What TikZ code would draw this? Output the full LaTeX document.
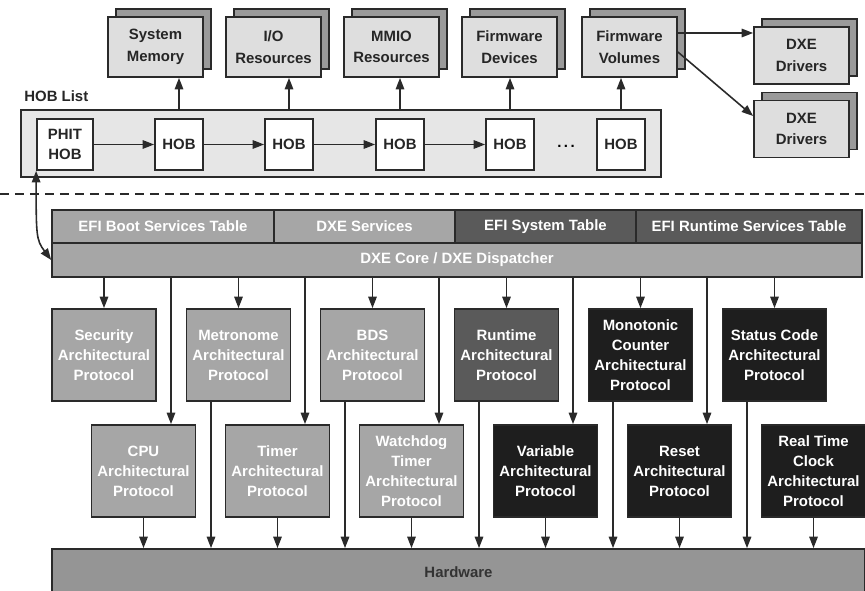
\documentclass[tikz,border=0pt]{standalone}
\usepackage{fontspec}
\setmainfont{Liberation Sans}
\usepackage{xcolor}
\usetikzlibrary{arrows.meta,shadows}

\definecolor{edgegray}{HTML}{2A2A2A}
\definecolor{palegray}{HTML}{DEDEDE}
\definecolor{listgray}{HTML}{E6E6E6}
\definecolor{shadegray}{HTML}{9A9A9A}
\definecolor{midgray}{HTML}{A6A6A6}
\definecolor{deepgray}{HTML}{5A5A5A}
\definecolor{nightgray}{HTML}{1E1E1E}
\definecolor{hwgray}{HTML}{959595}

\tikzset{
  box/.style={draw=edgegray, line width=1pt, align=center, inner sep=1pt,
    font=\fontsize{8.5}{11.4}\selectfont\bfseries},
  resbox/.style={box, fill=palegray, text=black!85, minimum width=1.9cm, minimum height=1.2cm,
    font=\fontsize{8.5}{12.2}\selectfont\bfseries,
    copy shadow={shadow xshift=0.16cm, shadow yshift=0.16cm, fill=shadegray, draw=edgegray}},
  hobbox/.style={box, fill=white, text=black!85, minimum width=0.96cm, minimum height=1.02cm},
  tablebar/.style={box, text=white, minimum height=0.66cm},
  protobox/.style={box, text=white, minimum width=2.08cm, minimum height=1.84cm},
  link/.style={draw=edgegray, line width=0.9pt, ->},
  twoway/.style={draw=edgegray, line width=0.9pt, <->},
}

\begin{document}
\begin{tikzpicture}[x=0.02cm, y=-0.02cm, >={Triangle[length=2.3mm,width=1.7mm]}]
  \useasboundingbox (0,0) rectangle (865,591);

  % resources described by the HOB list
  \node[resbox] (sysmem) at (155.5,47) {System\\Memory};
  \node[resbox] (iores) at (273.5,47) {I/O\\Resources};
  \node[resbox] (mmio) at (391.5,47) {MMIO\\Resources};
  \node[resbox] (fwdev) at (509.5,47) {Firmware\\Devices};
  \node[resbox] (fwvol) at (629.5,47) {Firmware\\Volumes};
  \node[resbox, minimum height=1.14cm] (drva) at (801.5,55.5) {DXE\\Drivers};
  \node[resbox, minimum height=1.14cm] (drvb) at (801.5,129) {DXE\\Drivers};

  % HOB list
  \node[font=\fontsize{8.5}{11.4}\selectfont\bfseries, text=black!85, anchor=west, inner sep=0pt]
    (hoblabel) at (24,96) {HOB List};
  \node[draw=edgegray, line width=1pt, fill=listgray, minimum width=12.8cm, minimum height=1.34cm]
    (hoblist) at (341,143.5) {};
  \node[hobbox, minimum width=1.12cm] (phit) at (65,144.5) {PHIT\\HOB};
  \node[hobbox] (hoba) at (179,144.5) {HOB};
  \node[hobbox] (hobb) at (289,144.5) {HOB};
  \node[hobbox] (hobc) at (400,144.5) {HOB};
  \node[hobbox] (hobd) at (510,144.5) {HOB};
  \node[hobbox] (hobe) at (621,144.5) {HOB};
  \node[font=\fontsize{8.5}{11.4}\selectfont\bfseries, inner sep=0pt] (hobdots) at (566,146) {.\,.\,.};

  \draw[link] (phit) -- (hoba);
  \draw[link] (hoba) -- (hobb);
  \draw[link] (hobb) -- (hobc);
  \draw[link] (hobc) -- (hobd);
  \foreach \h/\r in {hoba/sysmem, hobb/iores, hobc/mmio, hobd/fwdev, hobe/fwvol}
    \draw[link] (\h |- hoblist.north) -- (\h |- \r.south);

  \coordinate (fwtap) at ([yshift=0.28cm]fwvol.east);
  \draw[link] (fwtap) -- (fwtap -| drva.west);
  \draw[link] ([yshift=-0.1cm]fwvol.east) -- ([yshift=0.26cm]drvb.west);

  \draw[edgegray, line width=0.6pt, dash pattern=on 0.18cm off 0.12cm] (0,194) -- (865,194);

  % DXE core and its tables
  \node[tablebar, fill=midgray, minimum width=4.44cm] (bst) at (163,226.5) {EFI Boot Services Table};
  \node[tablebar, fill=midgray, minimum width=3.62cm] (dxesvc) at (364.5,226.5) {DXE Services};
  \node[tablebar, fill=deepgray, minimum width=3.62cm] (systab) at (545.5,226.5) {EFI System Table};
  \node[tablebar, fill=deepgray, minimum width=4.52cm] (rtstab) at (749,226.5) {EFI Runtime Services Table};
  \node[tablebar, fill=midgray, minimum width=16.2cm, minimum height=0.68cm] (core) at (457,260)
    {DXE Core / DXE Dispatcher};

  \draw[twoway] (phit.south west) .. controls +(0,-1.3cm) and +(-0.3cm,0.4cm) .. (core.west);

  % architectural protocols
  \node[protobox, fill=midgray] (security) at (104,355) {Security\\Architectural\\Protocol};
  \node[protobox, fill=midgray] (metronome) at (238.5,355) {Metronome\\Architectural\\Protocol};
  \node[protobox, fill=midgray] (bds) at (372.5,355) {BDS\\Architectural\\Protocol};
  \node[protobox, fill=deepgray] (runtime) at (506.5,355) {Runtime\\Architectural\\Protocol};
  \node[protobox, fill=nightgray] (monotonic) at (640.5,355) {Monotonic\\Counter\\Architectural\\Protocol};
  \node[protobox, fill=nightgray] (statuscode) at (774.5,355) {Status Code\\Architectural\\Protocol};

  \node[protobox, fill=midgray] (cpu) at (143.5,471) {CPU\\Architectural\\Protocol};
  \node[protobox, fill=midgray] (timer) at (277.5,471) {Timer\\Architectural\\Protocol};
  \node[protobox, fill=midgray] (watchdog) at (411.5,471) {Watchdog\\Timer\\Architectural\\Protocol};
  \node[protobox, fill=nightgray] (variable) at (545.5,471) {Variable\\Architectural\\Protocol};
  \node[protobox, fill=nightgray] (reset) at (679.5,471) {Reset\\Architectural\\Protocol};
  \node[protobox, fill=nightgray] (rtc) at (813.5,471) {Real Time\\Clock\\Architectural\\Protocol};

  \node[box, fill=hwgray, text=black!80, minimum width=16.26cm, minimum height=0.92cm] (hw) at (458.5,572) {Hardware};

  \foreach \p in {security,metronome,bds,runtime,monotonic,statuscode}
    \draw[link] (\p.north |- core.south) -- (\p.north);
  \foreach \p in {cpu,timer,watchdog,variable,reset} {
    \coordinate (\p-in) at ([xshift=0.55cm]\p.north);
    \draw[link] (\p-in |- core.south) -- (\p-in);
  }
  \foreach \p in {metronome,bds,runtime,monotonic,statuscode} {
    \coordinate (\p-out) at ([xshift=-0.55cm]\p.south);
    \draw[link] (\p-out) -- (\p-out |- hw.north);
  }
  \foreach \p in {cpu,timer,watchdog,variable,reset,rtc}
    \draw[link] (\p.south) -- (\p.south |- hw.north);
\end{tikzpicture}
\end{document}
